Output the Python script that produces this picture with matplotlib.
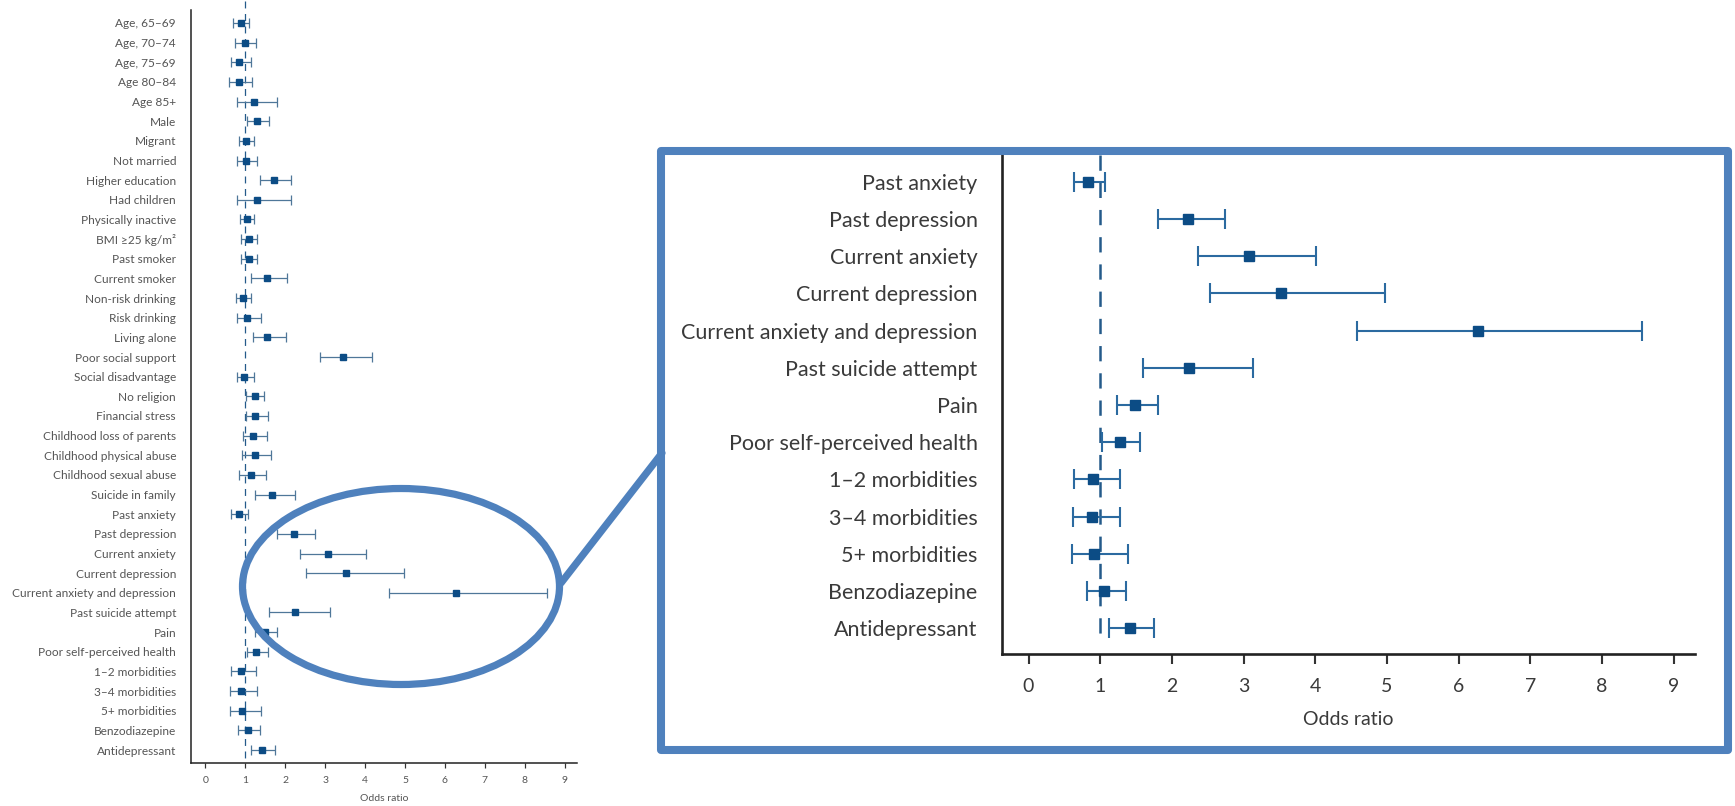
import matplotlib
matplotlib.use("Agg")
import matplotlib.pyplot as plt
from matplotlib.patches import Ellipse, Rectangle
from matplotlib.lines import Line2D
import numpy as np

# odds ratios (95% CI) per risk factor, top to bottom
factors = [
    'Age, 65\u201369', 'Age, 70\u201374', 'Age, 75\u201369', 'Age 80\u201384', 'Age 85+',
    'Male', 'Migrant', 'Not married', 'Higher education', 'Had children',
    'Physically inactive', 'BMI \u226525 kg/m\u00b2', 'Past smoker', 'Current smoker',
    'Non-risk drinking', 'Risk drinking', 'Living alone', 'Poor social support',
    'Social disadvantage', 'No religion', 'Financial stress', 'Childhood loss of parents',
    'Childhood physical abuse', 'Childhood sexual abuse', 'Suicide in family',
    'Past anxiety', 'Past depression', 'Current anxiety', 'Current depression',
    'Current anxiety and depression', 'Past suicide attempt', 'Pain',
    'Poor self-perceived health', '1\u20132 morbidities', '3\u20134 morbidities',
    '5+ morbidities', 'Benzodiazepine', 'Antidepressant',
]
odds = [0.88, 0.99, 0.85, 0.84, 1.21, 1.29, 1.02, 1.02, 1.71, 1.29,
        1.04, 1.08, 1.08, 1.54, 0.94, 1.04, 1.55, 3.45, 0.97, 1.23,
        1.25, 1.19, 1.23, 1.13, 1.67, 0.83, 2.22, 3.08, 3.53, 6.27,
        2.24, 1.49, 1.27, 0.90, 0.88, 0.92, 1.06, 1.41]
ci_low = [0.69, 0.75, 0.63, 0.59, 0.80, 1.04, 0.83, 0.79, 1.37, 0.80,
          0.87, 0.88, 0.88, 1.14, 0.76, 0.79, 1.19, 2.87, 0.78, 1.02,
          1.02, 0.93, 0.92, 0.84, 1.24, 0.64, 1.80, 2.37, 2.53, 4.59,
          1.60, 1.24, 1.03, 0.63, 0.62, 0.61, 0.82, 1.13]
ci_high = [1.09, 1.27, 1.13, 1.16, 1.78, 1.59, 1.21, 1.28, 2.14, 2.14,
           1.21, 1.29, 1.30, 2.05, 1.13, 1.40, 2.01, 4.16, 1.21, 1.47,
           1.56, 1.54, 1.63, 1.52, 2.24, 1.07, 2.74, 4.01, 4.97, 8.56,
           3.13, 1.80, 1.56, 1.27, 1.28, 1.39, 1.36, 1.75]
xticks = list(range(0, 10))
null_or = 1.0

plt.rcParams['font.family'] = ['Lato', 'DejaVu Sans']
plt.rcParams['lines.scale_dashes'] = False

W, H = 1735, 806
fig = plt.figure(figsize=(W / 100, H / 100), dpi=100)


def px_rect(x0, y0, x1, y1):
    # pixel box (origin top-left) -> figure fraction [l, b, w, h]
    return [x0 / W, 1 - y1 / H, (x1 - x0) / W, (y1 - y0) / H]


def px_pt(x, y):
    return x / W, 1 - y / H


def forest(ax, ylim, fs_lab, fs_tick, fs_x, ms, cap, elw, ecol, dash, dlw,
           spine_lw, tick_len, lab_pad, tick_pad, lab_col, xlab_y, ref_span):
    y = np.arange(1, len(factors) + 1)
    o = np.array(odds)
    err = [o - np.array(ci_low), np.array(ci_high) - o]
    ax.plot([null_or, null_or], ref_span, color='#245a8a', lw=dlw,
            dashes=dash, clip_on=False, zorder=1)
    eb = ax.errorbar(o, y, xerr=err, fmt='s', ms=ms, color='#0c4c85', mec='#0c4c85',
                     ecolor=ecol, elinewidth=elw, capsize=cap, capthick=elw, zorder=3)
    # caps of rows just outside the view must not poke in
    for art in [eb[0], *eb[1], *eb[2]]:
        art.set_clip_path(ax.patch)
    ax.set_yticks(y)
    ax.set_yticklabels(factors, fontsize=fs_lab, color=lab_col)
    ax.set_xticks(xticks)
    ax.set_xticklabels([str(t) for t in xticks], fontsize=fs_tick, color=lab_col)
    # limits after the ticks, otherwise set_yticks widens the view again
    ax.set_ylim(*ylim)
    ax.set_xlim(-0.37, 9.3)
    ax.tick_params(axis='y', length=0, pad=lab_pad)
    ax.tick_params(axis='x', length=tick_len, width=spine_lw * 0.8, pad=tick_pad,
                   color='#333333')
    for s in ['top', 'right']:
        ax.spines[s].set_visible(False)
    for s in ['left', 'bottom']:
        ax.spines[s].set_linewidth(spine_lw)
        ax.spines[s].set_color('#222222')
    ax.set_xlabel('Odds ratio', fontsize=fs_x, color=lab_col)
    ax.xaxis.set_label_coords(0.5, xlab_y)
    ax.xaxis.label.set_va('center')


# full forest plot
ax1 = fig.add_axes(px_rect(190.7, 10, 576.7, 763))
forest(ax1, (38.66, 0.34), fs_lab=8.6, fs_tick=7.5, fs_x=7.5, ms=3.8, cap=3.6,
       elw=0.9, ecol='#4f7799', dash=(5, 4), dlw=0.9, spine_lw=1.1,
       tick_len=3.5, lab_pad=10.5, tick_pad=6, lab_col='#555555',
       xlab_y=-0.0465, ref_span=[-0.1, 38.6])

# enlarged view of the mental health rows
ax2 = fig.add_axes(px_rect(1002, 155, 1695, 654.3))
forest(ax2, (38.7, 25.28), fs_lab=15.5, fs_tick=14, fs_x=14, ms=6.8, cap=7,
       elw=1.5, ecol='#2b6aa0', dash=(11, 8.6), dlw=1.8, spine_lw=1.9,
       tick_len=7, lab_pad=17.6, tick_pad=10, lab_col='#3a3a3a',
       xlab_y=-0.1296, ref_span=[25.28, 38.3])

# callout: ellipse around the highlighted rows, linked to the enlarged panel
blue = '#4f81bd'
cx, cy = px_pt(401, 586.5)
fig.add_artist(Ellipse((cx, cy), 317 / W, 196 / H, transform=fig.transFigure,
                       fill=False, ec=blue, lw=5.2, zorder=10))
x0, y0 = px_pt(561, 583)
x1, y1 = px_pt(662, 453)
fig.add_artist(Line2D([x0, x1], [y0, y1], transform=fig.transFigure,
                      color=blue, lw=5.2, solid_capstyle='round', zorder=10))
fig.add_artist(Rectangle(px_pt(661, 750), (1728 - 661) / W, (750 - 151) / H,
                         transform=fig.transFigure, fill=False, ec=blue,
                         lw=5.8, joinstyle='round', zorder=10))

fig.savefig('out.png', dpi=100)
